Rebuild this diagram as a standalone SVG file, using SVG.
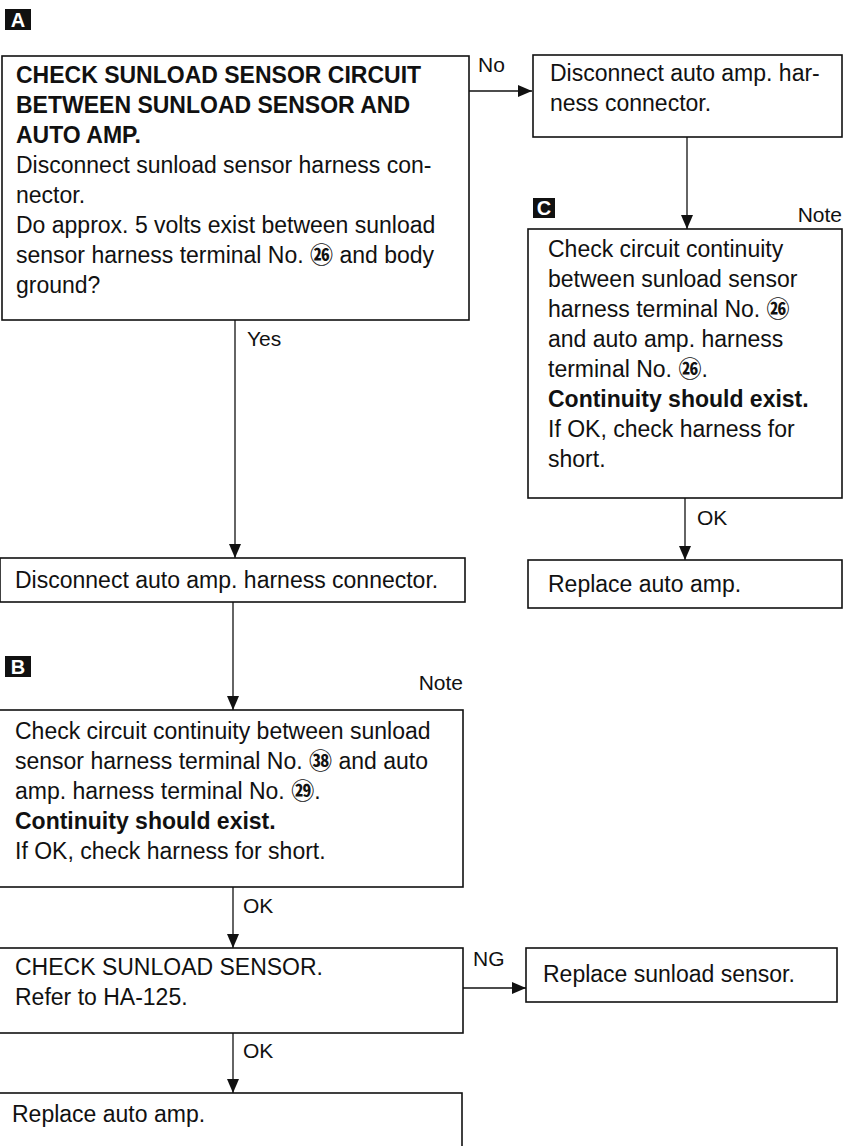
<svg xmlns="http://www.w3.org/2000/svg" width="850" height="1146" viewBox="0 0 850 1146">
<style>
  text { font-family: "Liberation Sans", "Noto Sans CJK JP", sans-serif; font-size: 23px; fill: #111; }
  .b { font-weight: bold; }
  .c { font-family: "Noto Sans CJK JP", sans-serif; font-weight: bold; }
  .lbl { font-size: 21px; }
  .badge { fill: #111; }
  .bt { fill: #fff; font-size: 20px; font-weight: bold; }
  .box { fill: #fff; stroke: #111; stroke-width: 1.6; }
  .con { stroke: #111; stroke-width: 1.3; fill: none; }
</style>
<defs>
  <marker id="arr" markerUnits="userSpaceOnUse" markerWidth="14" markerHeight="12" refX="14" refY="6" orient="auto">
    <path d="M0,0 L14,6 L0,12 z" fill="#111"/>
  </marker>
</defs>
<rect width="850" height="1146" fill="#fff"/>

<g id="badges">
  <rect class="badge" x="5" y="9" width="26" height="21"/>
  <text class="bt" x="18" y="27" text-anchor="middle">A</text>
  <rect class="badge" x="5" y="656" width="26" height="21"/>
  <text class="bt" x="18" y="674" text-anchor="middle">B</text>
  <rect class="badge" x="533" y="198" width="22" height="20"/>
  <text class="bt" x="544" y="215" text-anchor="middle">C</text>
</g>

<g id="connectors">
  <line class="con" x1="469" y1="91" x2="532" y2="91" marker-end="url(#arr)"/>
  <text class="lbl" x="478" y="72">No</text>
  <line class="con" x1="687" y1="137" x2="687" y2="229" marker-end="url(#arr)"/>
  <line class="con" x1="235" y1="320" x2="235" y2="558" marker-end="url(#arr)"/>
  <text class="lbl" x="247" y="346">Yes</text>
  <line class="con" x1="233" y1="602" x2="233" y2="710" marker-end="url(#arr)"/>
  <line class="con" x1="233" y1="887" x2="233" y2="948" marker-end="url(#arr)"/>
  <text class="lbl" x="243" y="913">OK</text>
  <line class="con" x1="233" y1="1033" x2="233" y2="1093" marker-end="url(#arr)"/>
  <text class="lbl" x="243" y="1058">OK</text>
  <line class="con" x1="463" y1="988" x2="526" y2="988" marker-end="url(#arr)"/>
  <text class="lbl" x="473" y="966">NG</text>
  <line class="con" x1="685" y1="498" x2="685" y2="560" marker-end="url(#arr)"/>
  <text class="lbl" x="697" y="525">OK</text>
</g>

<g id="nodeA">
  <rect class="box" x="2" y="56" width="467" height="264"/>
  <text class="b" x="16" y="83">CHECK SUNLOAD SENSOR CIRCUIT</text>
  <text class="b" x="16" y="113">BETWEEN SUNLOAD SENSOR AND</text>
  <text class="b" x="16" y="143">AUTO AMP.</text>
  <text x="16" y="173">Disconnect sunload sensor harness con-</text>
  <text x="16" y="203">nector.</text>
  <text x="16" y="233">Do approx. 5 volts exist between sunload</text>
  <text x="16" y="263">sensor harness terminal No. <tspan class="c">㉖</tspan> and body</text>
  <text x="16" y="293">ground?</text>
</g>

<g id="nodeR1">
  <rect class="box" x="533" y="55" width="309" height="82"/>
  <text x="550" y="81">Disconnect auto amp. har-</text>
  <text x="550" y="111">ness connector.</text>
</g>

<g id="nodeC">
  <text class="lbl" x="842" y="222" text-anchor="end">Note</text>
  <rect class="box" x="528" y="229" width="314" height="269"/>
  <text x="548" y="257">Check circuit continuity</text>
  <text x="548" y="287">between sunload sensor</text>
  <text x="548" y="317">harness terminal No. <tspan class="c">㉖</tspan></text>
  <text x="548" y="347">and auto amp. harness</text>
  <text x="548" y="377">terminal No. <tspan class="c">㉖</tspan>.</text>
  <text class="b" x="548" y="407">Continuity should exist.</text>
  <text x="548" y="437">If OK, check harness for</text>
  <text x="548" y="467">short.</text>
</g>

<g id="nodeR2">
  <rect class="box" x="528" y="560" width="314" height="48"/>
  <text x="548" y="592">Replace auto amp.</text>
</g>

<g id="nodeD">
  <rect class="box" x="0" y="558" width="465" height="44"/>
  <text x="15" y="588">Disconnect auto amp. harness connector.</text>
</g>

<g id="nodeB">
  <text class="lbl" x="463" y="690" text-anchor="end">Note</text>
  <rect class="box" x="-2" y="710" width="465" height="177"/>
  <text x="15" y="739">Check circuit continuity between sunload</text>
  <text x="15" y="769">sensor harness terminal No. <tspan class="c">㊳</tspan> and auto</text>
  <text x="15" y="799">amp. harness terminal No. <tspan class="c">㉙</tspan>.</text>
  <text class="b" x="15" y="829">Continuity should exist.</text>
  <text x="15" y="859">If OK, check harness for short.</text>
</g>

<g id="nodeE">
  <rect class="box" x="-2" y="948" width="465" height="85"/>
  <text x="15" y="975">CHECK SUNLOAD SENSOR.</text>
  <text x="15" y="1005">Refer to HA-125.</text>
</g>

<g id="nodeF">
  <rect class="box" x="526" y="948" width="311" height="54"/>
  <text x="543" y="982">Replace sunload sensor.</text>
</g>

<g id="nodeG">
  <rect class="box" x="-2" y="1093" width="464" height="70"/>
  <text x="12" y="1122">Replace auto amp.</text>
</g>
</svg>
